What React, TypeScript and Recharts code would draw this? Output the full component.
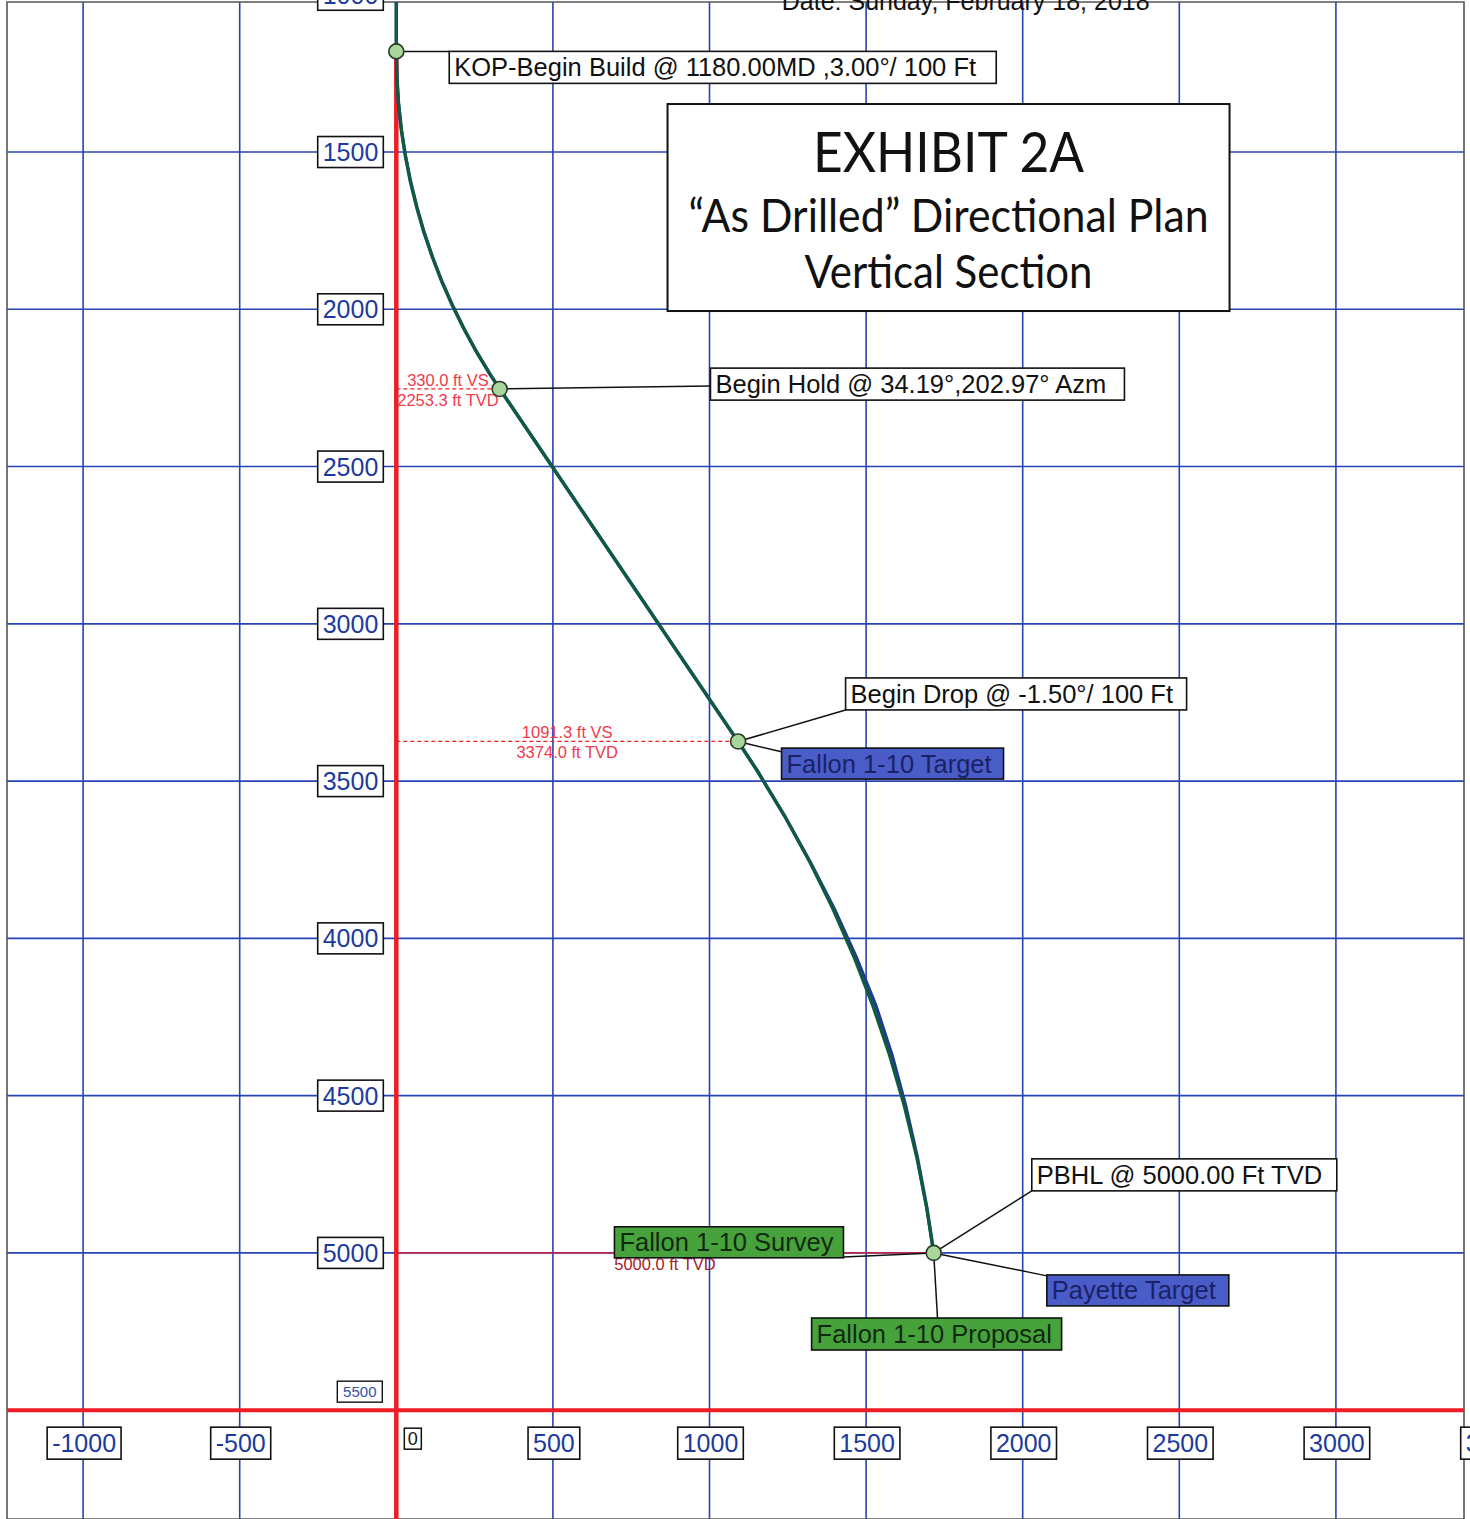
import React from 'react';
import { ComposedChart, Line, XAxis, YAxis, ReferenceLine, ReferenceDot, ReferenceArea } from 'recharts';

// ---------- data ----------
const gridVS = [-1000, -500, 500, 1000, 1500, 2000, 2500, 3000];
const gridTVD = [1500, 2000, 2500, 3000, 3500, 4000, 4500, 5000];
const xTickLabels = [-1000, -500, 0, 500, 1000, 1500, 2000, 2500, 3000, 3500];
const yTickLabels = [1000, 1500, 2000, 2500, 3000, 3500, 4000, 4500, 5000, 5500];

// Fallon 1-10 Proposal (green)
const proposalVS = [0, 0, 1.8, 7.3, 16.3, 29.0, 45.3, 65.1, 88.4, 115.2, 145.4, 178.9, 215.8, 255.9, 299.1, 330.0,
  1091.3, 1153.2, 1239.7, 1319.8, 1393.5, 1460.6, 1521.0, 1574.6, 1621.2, 1660.9, 1693.4, 1715.8];
const proposalTVD = [1000, 1180, 1263.3, 1346.5, 1429.3, 1511.7, 1593.4, 1674.3, 1754.3, 1833.2, 1910.9, 1987.2, 2061.9, 2135.0, 2206.2, 2253.3,
  3374.0, 3468.1, 3610.6, 3756.7, 3906.2, 4058.7, 4214.0, 4371.8, 4531.8, 4693.7, 4857.2, 5000];

// Fallon 1-10 Survey (blue)
const surveyVS = [0, 0, 2, 7, 16, 29, 45, 65, 88, 115, 145, 179, 216, 256, 299, 330,
  1091, 1153, 1240, 1321, 1398, 1468, 1531, 1583, 1626, 1663, 1694, 1716];
const surveyTVD = [1000, 1180, 1263, 1346, 1429, 1512, 1593, 1674, 1754, 1833, 1911, 1987, 2062, 2135, 2206, 2253,
  3374, 3468, 3611, 3757, 3906, 4059, 4214, 4372, 4532, 4694, 4857, 5000];

// Plan stations
const stationVS = [0, 330.0, 1091.3, 1715.8];
const stationTVD = [1180, 2253.3, 3374.0, 5000];
const stationVSLabels = ['', '330.0 ft VS', '1091.3 ft VS', ''];
const stationTVDLabels = ['', '2253.3 ft TVD', '3374.0 ft TVD', '5000.0 ft TVD'];

const dateText = 'Date:  Sunday, February 18, 2018';
const titleLines = ['EXHIBIT 2A', '\u201CAs Drilled\u201D Directional Plan', 'Vertical Section'];

// ---------- layout / style ----------
const W = 1470;
const H = 1519;
const X_DOMAIN: [number, number] = [-1243, 3409];
const Y_DOMAIN: [number, number] = [1023, 5846];
const AXIS_TVD = 5500;
const FONT = '"Liberation Sans", Arial, Helvetica, sans-serif';
const TITLE_FONT = 'Lato, "Open Sans", sans-serif';
const GRID = '#2744b4';
const RED = '#ee1c25';
const GREEN_LINE = '#0e5c3a';
const BLUE_LINE = '#1f3c92';
const TICK_TEXT = '#1c3a9c';
const BLUE_FILL = '#4a5cc8';
const GREEN_FILL = '#48a23c';
const BOX_FONT = 25.5;

type Ann = { text: string; st: number; boxVS: number; boxTVD: number; w: number; h: number; leadVS: number; leadTVD: number; fill: string; color: string };
const annotations: Ann[] = [
  { text: 'KOP-Begin Build @ 1180.00MD ,3.00\u00B0/ 100 Ft', st: 0, boxVS: 169, boxTVD: 1180, w: 547, h: 32, leadVS: 169, leadTVD: 1180, fill: '#ffffff', color: '#111111' },
  { text: 'Begin Hold @ 34.19\u00B0,202.97\u00B0 Azm', st: 1, boxVS: 1003, boxTVD: 2187, w: 414, h: 32, leadVS: 1003, leadTVD: 2244, fill: '#ffffff', color: '#111111' },
  { text: 'Begin Drop @ -1.50\u00B0/ 100 Ft', st: 2, boxVS: 1434.5, boxTVD: 3172, w: 341, h: 32, leadVS: 1434.5, leadTVD: 3274, fill: '#ffffff', color: '#111111' },
  { text: 'Fallon 1-10 Target', st: 2, boxVS: 1230, boxTVD: 3395, w: 222, h: 31, leadVS: 1230, leadTVD: 3407, fill: BLUE_FILL, color: '#1a2266' },
  { text: 'PBHL @ 5000.00 Ft TVD', st: 3, boxVS: 2029, boxTVD: 4701, w: 305, h: 32, leadVS: 2029, leadTVD: 4803, fill: '#ffffff', color: '#111111' },
  { text: 'Payette Target', st: 3, boxVS: 2077, boxTVD: 5070, w: 182, h: 31, leadVS: 2077, leadTVD: 5073, fill: BLUE_FILL, color: '#1a2266' },
  { text: 'Fallon 1-10 Proposal', st: 3, boxVS: 1326, boxTVD: 5207, w: 250, h: 32, leadVS: 1728, leadTVD: 5207, fill: GREEN_FILL, color: '#102a10' },
  { text: 'Fallon 1-10 Survey', st: 3, boxVS: 696.5, boxTVD: 4917, w: 229, h: 31, leadVS: 1428, leadTVD: 5013, fill: GREEN_FILL, color: '#102a10' },
];

const TITLE_ANCHOR = { vs: 866, tvd: 1347.4 };
const DATE_ANCHOR = { vs: 1818, tvd: 1048.6 };

const proposal = proposalVS.map((vs, i) => ({ vs, tvd: proposalTVD[i] }));
const survey = surveyVS.map((vs, i) => ({ vs, tvd: surveyTVD[i] }));

const labelWidth = (s: string) => 25 * (0.556 * s.replace('-', '').length + (s.startsWith('-') ? 0.333 : 0)) + 10;

const XTick = (v: number) => (props: any) => {
  const { cx, cy } = props;
  if (v === 0) {
    return (
      <g>
        <rect x={cx + 8} y={cy + 18} width={17} height={21} fill="#fff" stroke="#111" strokeWidth={1.5} />
        <text x={cx + 16.5} y={cy + 35} textAnchor="middle" fontSize={18} fontFamily={FONT} fill="#111">0</text>
      </g>
    );
  }
  const s = String(v);
  const w = labelWidth(s);
  return (
    <g>
      <rect x={cx - w / 2 + 1} y={cy + 17} width={w} height={32} fill="#fff" stroke="#111" strokeWidth={1.6} />
      <text x={cx + 1} y={cy + 42} textAnchor="middle" fontSize={25} fontFamily={FONT} fill={TICK_TEXT}>{s}</text>
    </g>
  );
};

const YTick = (v: number) => (props: any) => {
  const { cx, cy } = props;
  const s = String(v);
  if (v === AXIS_TVD) {
    return (
      <g>
        <rect x={cx - 59} y={cy - 29} width={45} height={21} fill="#fff" stroke="#111" strokeWidth={1.4} />
        <text x={cx - 36.5} y={cy - 13} textAnchor="middle" fontSize={15} fontFamily={FONT} fill="#3452a8">{s}</text>
      </g>
    );
  }
  const w = labelWidth(s);
  return (
    <g>
      <rect x={cx - 13 - w} y={cy - 15.5} width={w} height={31} fill="#fff" stroke="#111" strokeWidth={1.6} />
      <text x={cx - 13 - w / 2} y={cy + 9} textAnchor="middle" fontSize={25} fontFamily={FONT} fill={TICK_TEXT}>{s}</text>
    </g>
  );
};

const BoxShape = (a: Ann) => (props: any) => {
  const { cx, cy } = props;
  return (
    <g>
      <rect x={cx} y={cy} width={a.w} height={a.h} fill={a.fill} stroke="#111" strokeWidth={1.6} />
      <text x={cx + 5} y={cy + a.h / 2 + 9} fontSize={BOX_FONT} fontFamily={FONT} fill={a.color}>{a.text}</text>
    </g>
  );
};

const StationText = (i: number) => (props: any) => {
  const { cx, cy } = props;
  const dark = i === 3;
  const col = dark ? '#a8202c' : '#ef3b4a';
  return (
    <g>
      {stationVSLabels[i] ? (
        <text x={cx} y={cy - 3} textAnchor="middle" fontSize={16.5} fontFamily={FONT} fill={col}>{stationVSLabels[i]}</text>
      ) : null}
      <text x={cx} y={cy + 17} textAnchor="middle" fontSize={16.5} fontFamily={FONT} fill={col}>{stationTVDLabels[i]}</text>
    </g>
  );
};

const TitleShape = (props: any) => {
  const { cx, cy } = props;
  const w = 562;
  const h = 207;
  return (
    <g>
      <rect x={cx} y={cy} width={w} height={h} fill="#fff" stroke="#111" strokeWidth={2} />
      <text x={cx + w / 2} y={cy + 68} textAnchor="middle" fontSize={56} fontFamily={TITLE_FONT} fill="#111" textLength={271} lengthAdjust="spacingAndGlyphs">{titleLines[0]}</text>
      <text x={cx + w / 2} y={cy + 128} textAnchor="middle" fontSize={46} fontFamily={TITLE_FONT} fill="#111" textLength={520} lengthAdjust="spacingAndGlyphs">{titleLines[1]}</text>
      <text x={cx + w / 2} y={cy + 184} textAnchor="middle" fontSize={46} fontFamily={TITLE_FONT} fill="#111" textLength={288} lengthAdjust="spacingAndGlyphs">{titleLines[2]}</text>
    </g>
  );
};

const DateShape = (props: any) => {
  const { cx, cy } = props;
  return (
    <text x={cx} y={cy} textAnchor="middle" fontSize={25} fontFamily={FONT} fill="#111">{dateText}</text>
  );
};

export default function App() {
  return (
    <div style={{ position: 'absolute', left: 0, top: 0, width: W, height: H, background: '#fff' }}>
      <ComposedChart width={W} height={H} margin={{ top: 2, right: 6, bottom: 0, left: 7 }}>
        <XAxis type="number" dataKey="vs" domain={X_DOMAIN} allowDataOverflow hide />
        <YAxis type="number" dataKey="tvd" domain={Y_DOMAIN} reversed allowDataOverflow hide />

        {gridVS.map((v) => (
          <ReferenceLine key={'gv' + v} x={v} stroke={GRID} strokeWidth={1.6} zIndex={10} />
        ))}
        {gridTVD.map((v) => (
          <ReferenceLine key={'gh' + v} y={v} stroke={GRID} strokeWidth={1.6} zIndex={10} />
        ))}
        <ReferenceArea x1={X_DOMAIN[0]} x2={X_DOMAIN[1]} y1={Y_DOMAIN[0]} y2={Y_DOMAIN[1]} fill="none" fillOpacity={0} stroke="#555" strokeWidth={1.6} zIndex={11} />

        <ReferenceLine y={AXIS_TVD} stroke={RED} strokeWidth={4} zIndex={20} />
        <ReferenceLine segment={[{ x: 0, y: stationTVD[0] }, { x: 0, y: Y_DOMAIN[1] }]} stroke={RED} strokeWidth={4.5} zIndex={20} />

        {[1, 2, 3].map((i) => (
          <ReferenceLine
            key={'rd' + i}
            segment={[{ x: 0, y: stationTVD[i] }, { x: stationVS[i], y: stationTVD[i] }]}
            stroke={RED}
            strokeWidth={1.3}
            strokeDasharray={i === 3 ? undefined : '4 3'}
            zIndex={30}
          />
        ))}
        {[1, 2, 3].map((i) => (
          <ReferenceDot key={'rt' + i} x={stationVS[i] / 2} y={stationTVD[i]} r={0} shape={StationText(i)} zIndex={31} />
        ))}

        <Line data={survey} dataKey="tvd" type="linear" stroke={BLUE_LINE} strokeWidth={3.5} dot={false} activeDot={false} isAnimationActive={false} zIndex={40} />
        <Line data={proposal} dataKey="tvd" type="linear" stroke={GREEN_LINE} strokeWidth={3} dot={false} activeDot={false} isAnimationActive={false} zIndex={41} />

        {annotations.map((a, i) => (
          <ReferenceLine
            key={'ld' + i}
            segment={[{ x: stationVS[a.st], y: stationTVD[a.st] }, { x: a.leadVS, y: a.leadTVD }]}
            stroke="#111"
            strokeWidth={1.5}
            zIndex={50}
          />
        ))}

        {stationVS.map((v, i) => (
          <ReferenceDot key={'st' + i} x={v} y={stationTVD[i]} r={7.5} fill="#a9d69b" stroke="#2a3a2a" strokeWidth={1.6} zIndex={60} />
        ))}

        {annotations.map((a, i) => (
          <ReferenceDot key={'bx' + i} x={a.boxVS} y={a.boxTVD} r={0} shape={BoxShape(a)} zIndex={70} />
        ))}

        {xTickLabels.map((v) => (
          <ReferenceDot key={'xt' + v} x={v} y={AXIS_TVD} r={0} shape={XTick(v)} ifOverflow="visible" zIndex={80} />
        ))}
        {yTickLabels.map((v) => (
          <ReferenceDot key={'yt' + v} x={0} y={v} r={0} shape={YTick(v)} ifOverflow="visible" zIndex={80} />
        ))}

        <ReferenceDot x={TITLE_ANCHOR.vs} y={TITLE_ANCHOR.tvd} r={0} shape={TitleShape} zIndex={90} />
        <ReferenceDot x={DATE_ANCHOR.vs} y={DATE_ANCHOR.tvd} r={0} shape={DateShape} ifOverflow="visible" zIndex={90} />
      </ComposedChart>
    </div>
  );
}
